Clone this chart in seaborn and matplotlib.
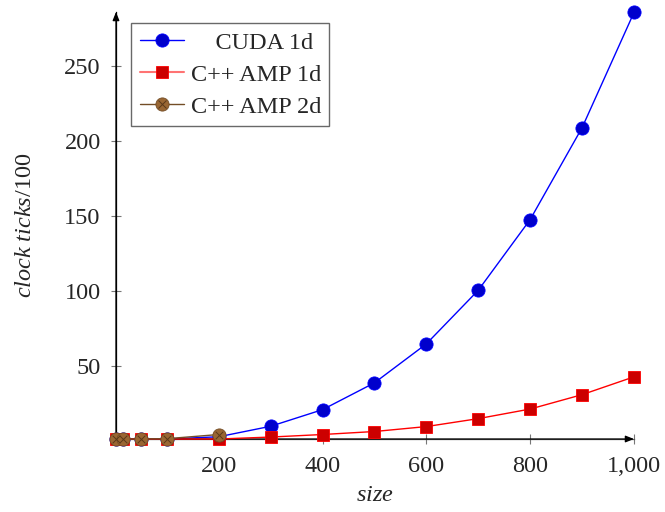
import matplotlib
matplotlib.use("Agg")
import matplotlib.pyplot as plt
import seaborn as sns
import pandas as pd
from matplotlib.legend_handler import HandlerTuple
from matplotlib.lines import Line2D

sizes_cuda = [2, 16, 50, 100, 200, 300, 400, 500, 600, 700, 800, 900, 1000]
cuda_1d = [1, 1, 1, 1, 2.5, 9.5, 20.6, 38.5, 64.5, 100.3, 147.5, 208.8, 285.7]
sizes_amp1 = [2, 16, 50, 100, 200, 300, 400, 500, 600, 700, 800, 900, 1000]
amp_1d = [1, 1, 1, 1, 1, 2.3, 4, 6, 9.3, 14.6, 21, 30.6, 42.5]
sizes_amp2 = [2, 16, 50, 100, 200]
amp_2d = [1, 1, 1, 1.2, 4]

x_ticks = [200, 400, 600, 800, 1000]
x_ticklabels = ["200", "400", "600", "800", "1,000"]
y_ticks = [50, 100, 150, 200, 250]

sns.set_style("white")
plt.rcParams['font.family'] = ['Liberation Serif', 'DejaVu Serif']
plt.rcParams['mathtext.fontset'] = 'custom'
plt.rcParams['mathtext.rm'] = 'Liberation Serif'
plt.rcParams['mathtext.it'] = 'Liberation Serif:italic'

FS = 17.5

fig = plt.figure(figsize=(6.65, 5.12), dpi=100)
ax = fig.add_axes([116/665, 1-439/512, (634-116)/665, (439-12)/512])

blue = (0, 0, 1)
blue_fill = (0, 0, 0.8)
red = (1, 0, 0)
red_fill = (0.8, 0, 0)
brown_line = (0.45, 0.3, 0.15)
brown_fill = (0.6, 0.4, 0.2)
brown_x = (0.35, 0.22, 0.1)

df_c = pd.DataFrame({"x": sizes_cuda, "y": cuda_1d})
df_a1 = pd.DataFrame({"x": sizes_amp1, "y": amp_1d})
df_a2 = pd.DataFrame({"x": sizes_amp2, "y": amp_2d})

sns.lineplot(data=df_c, x="x", y="y", ax=ax, color=blue, lw=1.0, marker="o",
             markersize=9.5, markerfacecolor=blue_fill, markeredgecolor=blue,
             markeredgewidth=0.6, zorder=3, clip_on=False)
sns.lineplot(data=df_a1, x="x", y="y", ax=ax, color=red, lw=1.0, marker="s",
             markersize=8.5, markerfacecolor=red_fill, markeredgecolor=red,
             markeredgewidth=0.6, zorder=4, clip_on=False)
sns.lineplot(data=df_a2, x="x", y="y", ax=ax, color=brown_line, lw=1.0, marker="o",
             markersize=9.5, markerfacecolor=brown_fill, markeredgecolor=brown_line,
             markeredgewidth=0.6, zorder=5, clip_on=False)
sns.scatterplot(data=df_a2, x="x", y="y", ax=ax, marker="x", s=30, color=brown_x,
                linewidth=0.7, zorder=6, clip_on=False, legend=False)

ax.set_xlim(2, 1000)
ax.set_ylim(1, 286)

for s in ["top", "right"]:
    ax.spines[s].set_visible(False)
ax.spines["left"].set_color("black")
ax.spines["left"].set_linewidth(0.9)
ax.spines["bottom"].set_color("#555555")
ax.spines["bottom"].set_linewidth(0.9)

ax.annotate("", xy=(1, 0), xytext=(0, 0), xycoords="axes fraction",
            arrowprops=dict(arrowstyle="-|>,head_length=0.5,head_width=0.2", color="black", lw=0.9,
                            shrinkA=0, shrinkB=0))
ax.annotate("", xy=(0, 1), xytext=(0, 0), xycoords="axes fraction",
            arrowprops=dict(arrowstyle="-|>,head_length=0.5,head_width=0.2", color="black", lw=0.9,
                            shrinkA=0, shrinkB=0))

ax.set_xticks(x_ticks)
ax.set_xticklabels(x_ticklabels)
ax.set_yticks(y_ticks)
ax.tick_params(axis="both", direction="inout", length=7, width=0.8, color="#777777",
               labelsize=FS, left=True, bottom=True)
ax.tick_params(axis="x", pad=8.5)
ax.tick_params(axis="y", pad=7.5)

ax.set_xlabel(r"$size$", fontsize=FS, labelpad=6)
ax.set_ylabel(r"$clock\ ticks/100$", fontsize=FS, labelpad=20)

h1 = Line2D([], [], color=blue, lw=1.0, marker="o", markersize=9.5,
            markerfacecolor=blue_fill, markeredgecolor=blue, markeredgewidth=0.6)
h2 = Line2D([], [], color=(1, 0.45, 0.45), lw=1.5, marker="s", markersize=8.5,
            markerfacecolor=red_fill, markeredgecolor=red, markeredgewidth=0.6)
h3a = Line2D([], [], color=brown_line, lw=1.0, marker="o", markersize=9.5,
             markerfacecolor=brown_fill, markeredgecolor=brown_line, markeredgewidth=0.6)
h3b = Line2D([], [], color=brown_x, lw=0, marker="x", markersize=5.5, markeredgewidth=0.7)
leg = ax.legend([h1, h2, (h3a, h3b)], ["    CUDA 1d", "C++ AMP 1d", "C++ AMP 2d"],
                handler_map={tuple: HandlerTuple(ndivide=1, pad=0)},
                loc="upper left", bbox_to_anchor=(131/665, 1-23/512), bbox_transform=fig.transFigure,
                fontsize=FS, frameon=True, fancybox=False, edgecolor="#444444",
                handlelength=1.85, handletextpad=0.25, labelspacing=0.42, borderpad=0.35,
                borderaxespad=0)
leg.get_frame().set_linewidth(1.0)

fig.savefig("out.png", dpi=100)
